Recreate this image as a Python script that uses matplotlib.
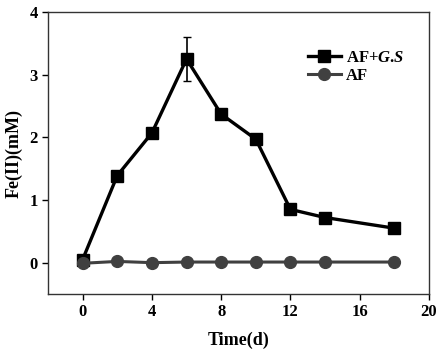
import matplotlib
matplotlib.use("Agg")
import matplotlib.pyplot as plt

days = [0, 2, 4, 6, 8, 10, 12, 14, 18]
af_gs = [0.05, 1.39, 2.07, 3.25, 2.37, 1.97, 0.85, 0.72, 0.55]
af_gs_err = [0.03, 0.05, 0.07, 0.35, 0.04, 0.04, 0.05, 0.05, 0.03]
af = [-0.01, 0.02, 0.0, 0.01, 0.01, 0.01, 0.01, 0.01, 0.01]
af_err = [0.01, 0.01, 0.01, 0.01, 0.01, 0.01, 0.01, 0.01, 0.01]

plt.rcParams['font.family'] = ['Liberation Serif', 'DejaVu Serif']
plt.rcParams['font.weight'] = 'bold'
plt.rcParams['mathtext.fontset'] = 'custom'
plt.rcParams['mathtext.it'] = 'Liberation Serif:italic:bold'
plt.rcParams['mathtext.rm'] = 'Liberation Serif:bold'
plt.rcParams['mathtext.bf'] = 'Liberation Serif:bold'

fig = plt.figure(figsize=(4.43, 3.54), dpi=100)
ax = fig.add_axes([48/443, 1-294/354, (429-48)/443, (294-12)/354])

ax.errorbar(days, af_gs, yerr=af_gs_err, color='black', fmt='none',
            capsize=3, elinewidth=1.2)
ax.errorbar(days, af, yerr=af_err, color='#404040', fmt='none',
            capsize=0, elinewidth=1)
ax.plot(days, af_gs, color='black', marker='s', markersize=8,
        linewidth=2.4, label='AF+$\\mathit{G}$.$\\mathit{S}$')
ax.plot(days, af, color='#404040', marker='o', markersize=8.5,
        linewidth=2.2, label='AF')

ax.set_xlim(-2, 20)
ax.set_ylim(-0.5, 4)
ax.set_xticks([0, 4, 8, 12, 16, 20])
ax.set_yticks([0, 1, 2, 3, 4])
ax.tick_params(direction='out', length=4, width=1, labelsize=12, colors='black')
for lab in ax.get_xticklabels() + ax.get_yticklabels():
    lab.set_fontweight('bold')
for s in ax.spines.values():
    s.set_linewidth(1)
    s.set_color('#333333')

ax.set_xlabel('Time(d)', fontsize=13, fontweight='bold', labelpad=8)
ax.set_ylabel('Fe(II)(mM)', fontsize=13, fontweight='bold', labelpad=5)

leg = ax.legend(loc='upper right', bbox_to_anchor=(0.975, 0.92), frameon=False,
                fontsize=12, handlelength=2.0, handletextpad=0.3, labelspacing=0.15)
for t in leg.get_texts():
    t.set_fontweight('bold')

fig.savefig('out.png', dpi=100)
